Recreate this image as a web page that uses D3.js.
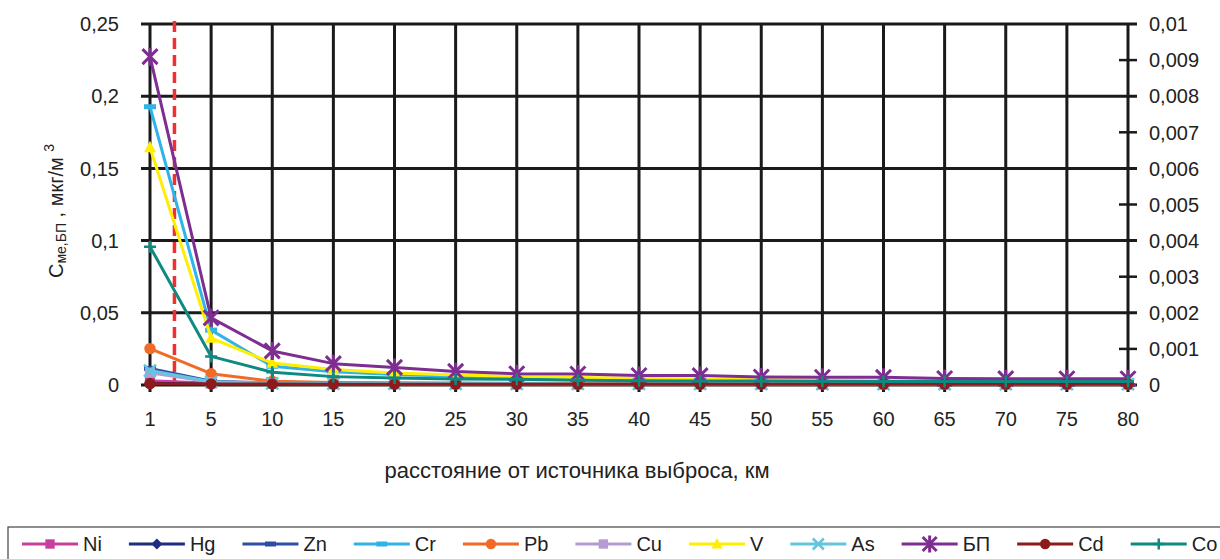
<!DOCTYPE html>
<html><head><meta charset="utf-8">
<script src="https://cdn.jsdelivr.net/npm/d3@7"></script>
<style>
html,body{margin:0;padding:0;background:#fff;}
svg{display:block;font-family:"Liberation Sans",Arial,sans-serif;}
</style></head>
<body>
<svg id="chart" width="1220" height="559"></svg>
<script>
// ---- data ----
const categories = [1,5,10,15,20,25,30,35,40,45,50,55,60,65,70,75,80];
const leftTicks = [0,0.05,0.1,0.15,0.2,0.25];
const rightTicks = [0,0.001,0.002,0.003,0.004,0.005,0.006,0.007,0.008,0.009,0.01];
const seriesNames = ["Ni","Hg","Zn","Cr","Pb","Cu","V","As","БП","Cd","Co"];
const Ni = [0.0030,0.0012,0.0008,0.0007,0.0006,0.0006,0.0005,0.0005,0.0005,0.0005,0.0005,0.0005,0.0004,0.0004,0.0004,0.0004,0.0004];
const Hg = [0.0012,0.0006,0.0005,0.0004,0.0004,0.0004,0.0004,0.0004,0.0004,0.0004,0.0004,0.0004,0.0004,0.0004,0.0004,0.0004,0.0004];
const Zn = [0.0115,0.0026,0.0015,0.0012,0.0011,0.0010,0.0009,0.0009,0.0008,0.0008,0.0008,0.0008,0.0008,0.0007,0.0007,0.0007,0.0007];
const Cr = [0.1927,0.0380,0.0130,0.0092,0.0072,0.0060,0.0052,0.0046,0.0040,0.0036,0.0033,0.0031,0.0030,0.0029,0.0028,0.0028,0.0027];
const Pb = [0.0252,0.0078,0.0026,0.0018,0.0015,0.0013,0.0012,0.0011,0.0011,0.0010,0.0010,0.0010,0.0009,0.0009,0.0009,0.0009,0.0009];
const Cu = [0.0085,0.0020,0.0011,0.0009,0.0008,0.0007,0.0007,0.0006,0.0006,0.0006,0.0006,0.0005,0.0005,0.0005,0.0005,0.0005,0.0005];
const V  = [0.1645,0.0325,0.0152,0.0108,0.0083,0.0069,0.0060,0.0052,0.0046,0.0040,0.0036,0.0034,0.0032,0.0031,0.0030,0.0030,0.0029];
const As = [0.0100,0.0022,0.0012,0.0010,0.0009,0.0008,0.0008,0.0007,0.0007,0.0007,0.0007,0.0006,0.0006,0.0006,0.0006,0.0006,0.0006];
const BP = [0.2274,0.0465,0.0236,0.0148,0.0122,0.0094,0.0078,0.0076,0.0066,0.0065,0.0055,0.0054,0.0053,0.0045,0.0044,0.0043,0.0043];
const Cd = [0.0009,0.0007,0.0007,0.0006,0.0006,0.0006,0.0006,0.0006,0.0006,0.0006,0.0006,0.0006,0.0006,0.0006,0.0006,0.0006,0.0006];
const Co = [0.0958,0.0198,0.0088,0.0058,0.0048,0.0042,0.0039,0.0033,0.0030,0.0028,0.0027,0.0026,0.0025,0.0025,0.0025,0.0024,0.0024];
const seriesValues = [Ni,Hg,Zn,Cr,Pb,Cu,V,As,BP,Cd,Co];
const redLineIndex = 0.4; // position of dashed boundary, in category-index units
const xTitle = "расстояние от источника выброса, км";

// ---- styles ----
const styles = {
  "Ni": {color:"#C8409E", marker:"square"},
  "Hg": {color:"#1E2B80", marker:"diamond"},
  "Zn": {color:"#2D4EA2", marker:"dash"},
  "Cr": {color:"#2FB3E8", marker:"dash"},
  "Pb": {color:"#F26B26", marker:"circle"},
  "Cu": {color:"#B49CD2", marker:"square"},
  "V":  {color:"#FFEE00", marker:"triangle"},
  "As": {color:"#62C6DE", marker:"x"},
  "БП": {color:"#7E2E90", marker:"asterisk"},
  "Cd": {color:"#8E1B1B", marker:"circle"},
  "Co": {color:"#0E8A80", marker:"plus"}
};

const svg = d3.select("#chart");
const L = 150, R = 1128, T = 24, B = 385;
const x = d3.scalePoint().domain(categories).range([L,R]);
const xi = d3.scaleLinear().domain([0, categories.length-1]).range([L,R]);
const y = d3.scaleLinear().domain([0,0.25]).range([B,T]);
const y2 = d3.scaleLinear().domain([0,0.01]).range([B,T]);
const fmtL = v => d3.format(".2~f")(v).replace(".", ",");
const fmtR = v => d3.format(".3~f")(v).replace(".", ",");
const gridColor = "#1a1a1a";
const textColor = "#222";

// grid: horizontal lines (with outward ticks on both sides)
svg.append("g").selectAll("line").data(leftTicks).join("line")
  .attr("x1", L-9).attr("x2", R+9)
  .attr("y1", d=>y(d)).attr("y2", d=>y(d))
  .attr("stroke", gridColor).attr("stroke-width", 3);
// vertical lines at categories
svg.append("g").selectAll("line").data(categories).join("line")
  .attr("x1", d=>x(d)).attr("x2", d=>x(d))
  .attr("y1", T).attr("y2", B+7)
  .attr("stroke", gridColor).attr("stroke-width", 3);
// right axis minor ticks
svg.append("g").selectAll("line").data(rightTicks.filter((d,i)=>i%2===1)).join("line")
  .attr("x1", R-9).attr("x2", R+9)
  .attr("y1", d=>y2(d)).attr("y2", d=>y2(d))
  .attr("stroke", gridColor).attr("stroke-width", 2.5);

// left axis labels
svg.append("g").selectAll("text").data(leftTicks).join("text")
  .attr("x", L-31).attr("y", d=>y(d)).attr("dy","0.36em")
  .attr("text-anchor","end").attr("font-size",20).attr("fill",textColor)
  .text(fmtL);
// right axis labels
svg.append("g").selectAll("text").data(rightTicks).join("text")
  .attr("x", R+21).attr("y", d=>y2(d)).attr("dy","0.36em")
  .attr("text-anchor","start").attr("font-size",20).attr("fill",textColor)
  .text(fmtR);
// x axis labels
svg.append("g").selectAll("text").data(categories).join("text")
  .attr("x", d=>x(d)).attr("y", 426)
  .attr("text-anchor","middle").attr("font-size",20).attr("fill",textColor)
  .text(d=>d);

// red dashed line
svg.append("line")
  .attr("x1", xi(redLineIndex)).attr("x2", xi(redLineIndex))
  .attr("y1", T-3).attr("y2", B-3)
  .attr("stroke","#EE3030").attr("stroke-width",3.5)
  .attr("stroke-dasharray","11,6");

// marker drawing
function drawMarker(g, type, color, size) {
  const s = size/2;
  if (type==="square") {
    g.append("rect").attr("x",-s*0.85).attr("y",-s*0.85).attr("width",s*1.7).attr("height",s*1.7).attr("fill",color);
  } else if (type==="diamond") {
    g.append("path").attr("d",`M0,${-s}L${s},0L0,${s}L${-s},0Z`).attr("fill",color);
  } else if (type==="dash") {
    g.append("rect").attr("x",-s).attr("y",-2.5).attr("width",2*s).attr("height",5).attr("fill",color);
  } else if (type==="circle") {
    g.append("circle").attr("r",s*0.95).attr("fill",color);
  } else if (type==="triangle") {
    g.append("path").attr("d",`M0,${-s*1.1}L${s},${s*0.8}L${-s},${s*0.8}Z`).attr("fill",color);
  } else if (type==="x") {
    g.append("path").attr("d",`M${-s},${-s}L${s},${s}M${-s},${s}L${s},${-s}`).attr("stroke",color).attr("stroke-width",2.5);
  } else if (type==="asterisk") {
    g.append("path").attr("d",`M${-s},${-s}L${s},${s}M${-s},${s}L${s},${-s}M0,${-s*1.2}L0,${s*1.2}`).attr("stroke",color).attr("stroke-width",3);
  } else if (type==="plus") {
    g.append("path").attr("d",`M${-s},0L${s},0M0,${-s}L0,${s}`).attr("stroke",color).attr("stroke-width",2.5);
  }
}

// series
const line = d3.line().x((d,i)=>x(categories[i])).y(d=>y(d));
const seriesG = svg.append("g");
seriesNames.forEach((name, si) => {
  const st = styles[name];
  const vals = seriesValues[si];
  const g = seriesG.append("g");
  g.append("path").datum(vals).attr("d", line)
    .attr("fill","none").attr("stroke", st.color).attr("stroke-width",3)
    .attr("stroke-linejoin","round");
  vals.forEach((v,i) => {
    const mg = g.append("g").attr("transform", `translate(${x(categories[i])},${y(v)})`);
    drawMarker(mg, st.marker, st.color, name==="БП" ? 15 : 12);
  });
});

// y axis title
const yt = svg.append("text")
  .attr("transform", `translate(63,278) rotate(-90)`)
  .attr("font-size",20).attr("fill",textColor);
yt.append("tspan").text("C");
yt.append("tspan").attr("font-size",14).attr("dy",3).text("ме,БП");
yt.append("tspan").attr("dy",-3).text(" , мкг/м ");
yt.append("tspan").attr("font-size",14).attr("dy",-9).text("3");

// x axis title
svg.append("text").attr("x", 577).attr("y", 478)
  .attr("text-anchor","middle").attr("font-size",22).attr("fill",textColor)
  .text(xTitle);

// legend
svg.append("rect").attr("x",8).attr("y",527).attr("width",1240).attr("height",60)
  .attr("fill","#fff").attr("stroke","#444").attr("stroke-width",1.2);
let lx = 22;
const ly = 544;
seriesNames.forEach(name => {
  const st = styles[name];
  const g = svg.append("g");
  g.append("line").attr("x1",lx).attr("x2",lx+56).attr("y1",ly).attr("y2",ly)
    .attr("stroke",st.color).attr("stroke-width",3);
  const mg = g.append("g").attr("transform",`translate(${lx+28},${ly})`);
  drawMarker(mg, st.marker, st.color, name==="БП" ? 14 : 11);
  const t = g.append("text").attr("x",lx+61).attr("y",ly).attr("dy","0.36em")
    .attr("font-size",20).attr("fill",textColor).text(name);
  const w = t.node().getComputedTextLength();
  lx = lx + 88 + w;
});
</script>
</body></html>
